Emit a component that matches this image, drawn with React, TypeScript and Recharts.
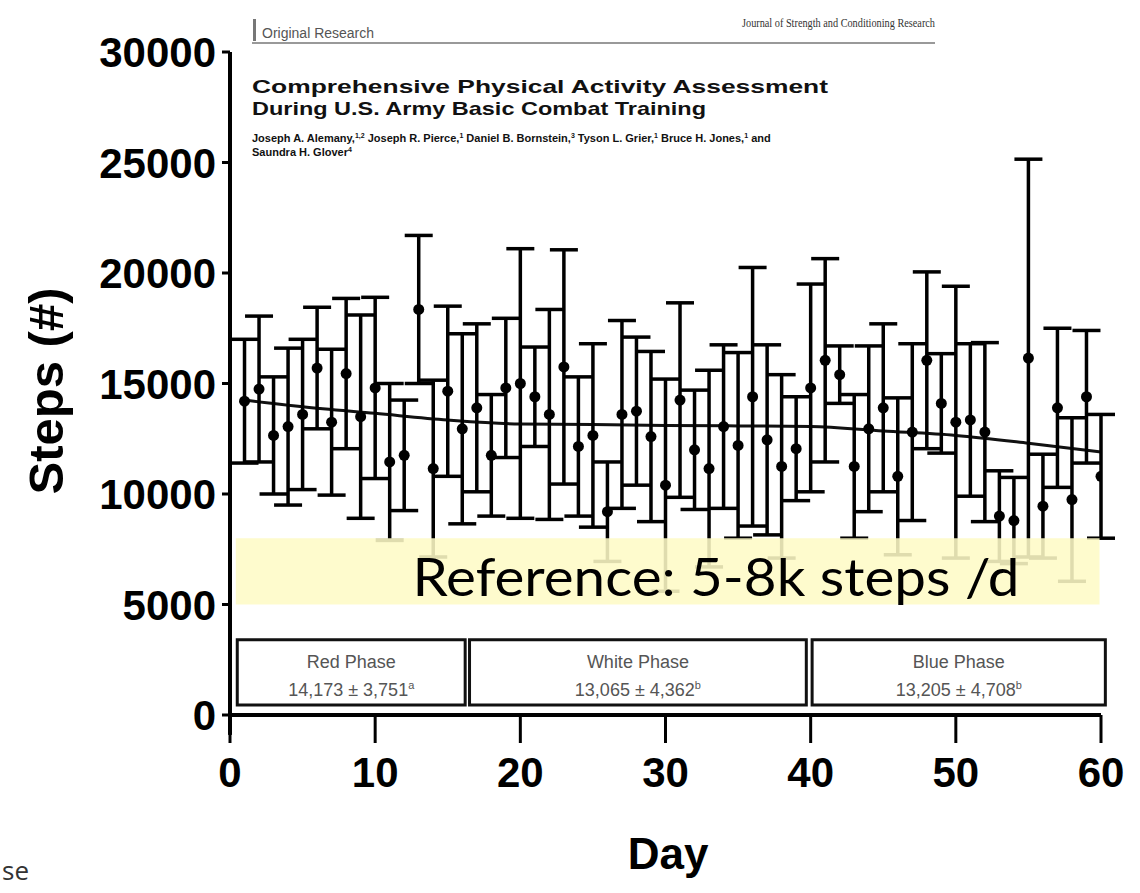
import { ComposedChart, ErrorBar, Line, ReferenceArea, ReferenceLine, Scatter, XAxis, YAxis } from 'recharts';

// daily step counts over basic combat training (mean ± SD per day)
const days = [
  1, 2, 3, 4, 5, 6, 7, 8, 9, 10, 11, 12, 13, 14, 15, 16, 17, 18, 19, 20,
  21, 22, 23, 24, 25, 26, 27, 28, 29, 30, 31, 32, 33, 34, 35, 36, 37, 38, 39, 40,
  41, 42, 43, 44, 45, 46, 47, 48, 49, 50, 51, 52, 53, 54, 55, 56, 57, 58, 59, 60,
];
const meanSteps = [
  14200, 14750, 12650, 13050, 13600, 15700, 13250, 15450, 13500, 14800,
  11450, 11750, 18350, 11150, 14650, 12950, 13900, 11750, 14800, 15000,
  14400, 13600, 15750, 12150, 12650, 9200, 13600, 13750, 12600, 10400,
  14250, 12000, 11150, 13050, 12200, 14400, 12450, 11250, 12050, 14800,
  16050, 15400, 11250, 12950, 13900, 10800, 12800, 16050, 14100, 13250,
  13350, 12800, 9000, 8800, 16150, 9450, 13900, 9750, 14400, 10800,
];
const sdSteps = [
  2800, 3300, 2650, 3550, 3400, 2750, 3300, 3400, 4600, 4100,
  3550, 2500, 3350, 4000, 3850, 4300, 3800, 2750, 3150, 6100,
  2250, 4750, 5300, 3150, 4150, 2250, 4250, 3350, 3850, 4800,
  4400, 2700, 4450, 3700, 4200, 5850, 4300, 4150, 2350, 4700,
  4600, 1300, 3250, 3750, 3800, 3550, 4000, 4000, 2250, 6150,
  3450, 4050, 2050, 1950, 9000, 2350, 3600, 3700, 3000, 2800,
];

// smoothed trend through the daily means
const trendDays = [1, 5, 10, 15, 20, 25, 30, 35, 40, 45, 50, 55, 60];
const trendSteps = [14250, 13950, 13650, 13350, 13170, 13150, 13100, 13080, 13050, 12850, 12650, 12300, 11900];

// training phases
const phaseNames = ['Red Phase', 'White Phase', 'Blue Phase'];
const phaseMeans = ['14,173', '13,065', '13,205'];
const phaseSds = ['3,751', '4,362', '4,708'];
const phaseMarks = ['a', 'b', 'b'];
const phaseFirstDay = [0.5, 16.5, 40.1];
const phaseLastDay = [16.2, 39.7, 60.3];

// recommended range for daily steps
const referenceLow = 5000;
const referenceHigh = 8000;

const dayTicks = [0, 10, 20, 30, 40, 50, 60];
const stepTicks = [0, 5000, 10000, 15000, 20000, 25000, 30000];

const points = days.map((day, i) => ({ day, steps: meanSteps[i], sd: sdSteps[i] }));
const trend = trendDays.map((day, i) => ({ day, steps: trendSteps[i] }));

const SANS = '"Liberation Sans", Arial, Helvetica, sans-serif';
const NARROW = '"Liberation Sans Narrow", "Liberation Sans", Arial, sans-serif';
const BOX_LOW = 450;
const BOX_HIGH = 3400;

function DayTick({ x, y, payload }: any) {
  return (
    <text x={x} y={y} dy={44} textAnchor="middle" fontSize={42} fontWeight={700} fontFamily={SANS} fill="#000">
      {payload.value}
    </text>
  );
}

function StepTick({ x, y, payload }: any) {
  return (
    <text x={x} y={y} dy={15} textAnchor="end" fontSize={42} fontWeight={700} fontFamily={SANS} fill="#000">
      {payload.value}
    </text>
  );
}

function phaseLabel(i: number) {
  return ({ viewBox }: any) => {
    const cx = viewBox.x + viewBox.width / 2;
    return (
      <g fontFamily={NARROW} fontSize={18} fill="#555" textAnchor="middle">
        <text x={cx} y={viewBox.y + 28}>{phaseNames[i]}</text>
        <text x={cx} y={viewBox.y + 56}>
          {phaseMeans[i]} ± {phaseSds[i]}
          <tspan fontSize={11} dy={-7}>{phaseMarks[i]}</tspan>
        </text>
      </g>
    );
  };
}

const dot = (p: any) => <circle cx={p.cx} cy={p.cy} r={5.5} fill="#000" />;

export default function App() {
  return (
    <div style={{ position: 'absolute', left: 0, top: 0, width: 1140, height: 893, background: '#fff', overflow: 'hidden' }}>
      <ComposedChart width={1140} height={893} margin={{ top: 52, right: 39, bottom: 0, left: 0 }}>
        <XAxis
          type="number"
          dataKey="day"
          domain={[0, 60]}
          ticks={dayTicks}
          interval={0}
          allowDataOverflow
          height={178}
          tickSize={28}
          tickMargin={0}
          tick={<DayTick />}
          axisLine={{ stroke: '#000', strokeWidth: 4 }}
          tickLine={{ stroke: '#000', strokeWidth: 3 }}
        />
        <YAxis
          type="number"
          dataKey="steps"
          domain={[0, 30000]}
          ticks={stepTicks}
          interval={0}
          allowDataOverflow
          width={230}
          tickSize={8}
          tickMargin={6}
          tick={<StepTick />}
          axisLine={{ stroke: '#000', strokeWidth: 4 }}
          tickLine={{ stroke: '#000', strokeWidth: 3 }}
        />
        <ReferenceLine
          segment={[{ x: 0, y: 0 }, { x: 0, y: -900 }]}
          ifOverflow="visible"
          stroke="#000"
          strokeWidth={4}
        />
        {phaseNames.map((name, i) => (
          <ReferenceArea
            key={name}
            x1={phaseFirstDay[i]}
            x2={phaseLastDay[i]}
            y1={BOX_LOW}
            y2={BOX_HIGH}
            ifOverflow="visible"
            fill="none"
            stroke="#111"
            strokeWidth={3}
            label={phaseLabel(i)}
          />
        ))}
        <Line
          data={trend}
          dataKey="steps"
          type="monotone"
          stroke="#111"
          strokeWidth={3}
          dot={false}
          activeDot={false}
          isAnimationActive={false}
        />
        <Scatter data={points} fill="#000" shape={dot} isAnimationActive={false}>
          <ErrorBar dataKey="sd" direction="y" width={14} strokeWidth={3.5} stroke="#000" isAnimationActive={false} />
        </Scatter>
        <ReferenceArea
          x1={0.4}
          x2={59.9}
          y1={referenceLow}
          y2={referenceHigh}
          ifOverflow="visible"
          fill="#fefbc6"
          fillOpacity={0.88}
          stroke="none"
          zIndex={900}
        />
      </ComposedChart>

      <svg width={1140} height={893} style={{ position: 'absolute', left: 0, top: 0, pointerEvents: 'none' }}>
        {/* journal header */}
        <rect x={253} y={19} width={3} height={22} fill="#777" />
        <text x={262} y={38} fontSize={14} fontFamily={SANS} fill="#555">Original Research</text>
        <line x1={252} y1={43} x2={935} y2={43} stroke="#999" strokeWidth={2} />
        <text x={935} y={27} textAnchor="end" fontSize={13} fontFamily='"Liberation Serif", "Times New Roman", serif' fill="#333" textLength={193} lengthAdjust="spacingAndGlyphs">
          Journal of Strength and Conditioning Research
        </text>
        <text x={252} y={93} fontSize={19} fontWeight={700} fontFamily={SANS} fill="#111" textLength={576} lengthAdjust="spacingAndGlyphs">
          Comprehensive Physical Activity Assessment
        </text>
        <text x={252} y={115} fontSize={19} fontWeight={700} fontFamily={SANS} fill="#111" textLength={454} lengthAdjust="spacingAndGlyphs">
          During U.S. Army Basic Combat Training
        </text>
        <text x={252} y={142} fontSize={11} fontWeight={700} fontFamily={SANS} fill="#111">
          Joseph A. Alemany,<tspan fontSize={7} dy={-4}>1,2</tspan>
          <tspan dy={4}> Joseph R. Pierce,</tspan><tspan fontSize={7} dy={-4}>1</tspan>
          <tspan dy={4}> Daniel B. Bornstein,</tspan><tspan fontSize={7} dy={-4}>3</tspan>
          <tspan dy={4}> Tyson L. Grier,</tspan><tspan fontSize={7} dy={-4}>1</tspan>
          <tspan dy={4}> Bruce H. Jones,</tspan><tspan fontSize={7} dy={-4}>1</tspan>
          <tspan dy={4}> and</tspan>
        </text>
        <text x={252} y={156} fontSize={11} fontWeight={700} fontFamily={SANS} fill="#111">
          Saundra H. Glover<tspan fontSize={7} dy={-4}>4</tspan>
        </text>

        {/* band caption */}
        <text x={716} y={596} textAnchor="middle" fontSize={52} fontFamily='Lato, "Open Sans", sans-serif' fill="#000" textLength={607} lengthAdjust="spacingAndGlyphs">
          Reference: 5-8k steps /d
        </text>

        {/* axis titles */}
        <text transform="translate(63,391) rotate(-90)" textAnchor="middle" fontSize={49} fontWeight={700} fontFamily={SANS} fill="#000">
          Steps (#)
        </text>
        <text x={668} y={869} textAnchor="middle" fontSize={44} fontWeight={700} fontFamily={SANS} fill="#000">
          Day
        </text>
        <text x={2} y={880} fontSize={26} fontFamily='"Open Sans", Lato, sans-serif' fill="#333">se</text>
      </svg>
    </div>
  );
}
